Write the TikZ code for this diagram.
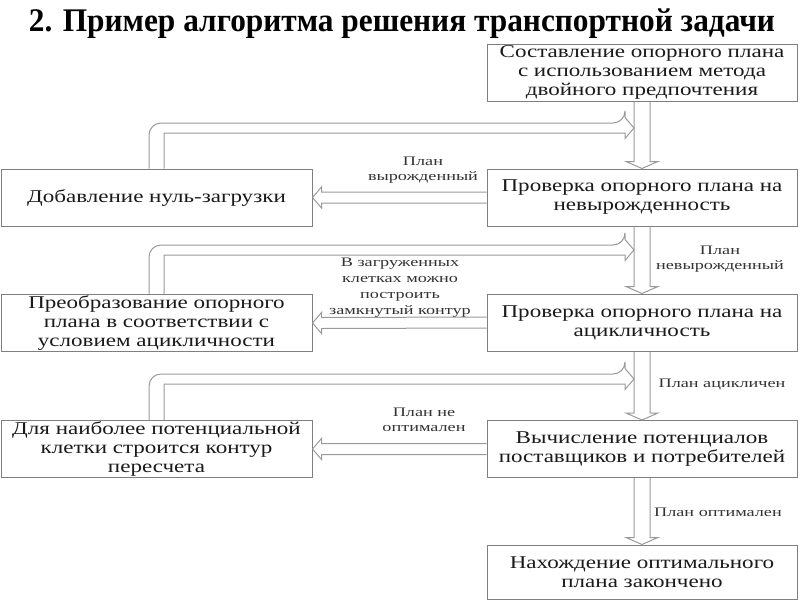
\documentclass[tikz,border=0pt]{standalone}
\usepackage{fontspec}
\setmainfont{Liberation Serif}
\newfontfamily\boxfont[FakeStretch=1.28]{Liberation Serif}
\newfontfamily\lblfont[FakeStretch=1.4]{Liberation Serif}
\newfontfamily\titlefont[FakeStretch=0.95]{Liberation Serif}
\usetikzlibrary{calc}
\definecolor{boxgray}{HTML}{7F7F7F}
\definecolor{linegray}{HTML}{9A9A9A}
\definecolor{txt}{HTML}{1A1A1A}
\definecolor{lbltxt}{HTML}{333333}
\newcommand\vdarrow[2]{\draw[ln] ($(#1.south)+(-8,0)$) -- ($(#2.north)+(-8,-7)$) -- ($(#2.north)+(-16,-7)$) -- (#2.north) -- ($(#2.north)+(16,-7)$) -- ($(#2.north)+(8,-7)$) -- ($(#1.south)+(8,0)$);}
\newcommand\hdarrow[2]{\draw[ln] ($(#1.west)+(0,-5.5)$) -- ($(#2.east)+(9,-5.5)$) -- ($(#2.east)+(9,-10.5)$) -- (#2.east) -- ($(#2.east)+(9,10.5)$) -- ($(#2.east)+(9,5.5)$) -- ($(#1.west)+(0,5.5)$);}
\newcommand\fbloop[2]{\draw[ln] ($(#1.north)+(-7.5,0)$) [rounded corners=12pt] |- ($(#2)+(-9,-5)$) [sharp corners] -- ($(#2)+(-9,-10.5)$) -- (#2) -- ($(#2)+(-9,10.5)$) -- ($(#2)+(-9,5)$) -| ($(#1.north)+(7.5,0)$);}
\begin{document}
\begin{tikzpicture}[x=1pt,y=-1pt,
 box/.style={draw=boxgray, line width=1pt, minimum width=310pt, minimum height=57pt, inner sep=0pt, align=center, font=\boxfont\fontsize{18}{19}\selectfont, text=txt},
 lbox/.style={box, minimum width=311pt},
 lbl/.style={align=center, font=\lblfont\fontsize{13}{15}\selectfont, text=lbltxt, inner sep=0pt},
 ln/.style={draw=linegray, line width=1pt, line join=miter}]
\useasboundingbox[fill=white] (0,0) rectangle (800,600);
\node[font=\titlefont\bfseries\fontsize{33}{33}\selectfont, text=black] (title) at (402,24) {2. Пример алгоритма решения транспортной задачи};
\node[box] (b1) at (642,72.5) {Составление опорного плана\\с использованием метода\\двойного предпочтения};
\node[box] (b2) at (642,197.5) {Проверка опорного плана на\\невырожденность};
\node[box] (b3) at (642,322.5) {Проверка опорного плана на\\ацикличность};
\node[box] (b4) at (642,449) {Вычисление потенциалов\\поставщиков и потребителей};
\node[box, minimum height=54pt] (b5) at (642,572) {Нахождение оптимального\\плана закончено};
\node[lbox] (l1) at (156.5,197.5) {Добавление нуль-загрузки};
\node[lbox] (l2) at (156.5,323) {Преобразование опорного\\плана в соответствии с\\условием ацикличности};
\node[lbox] (l3) at (156.5,449) {Для наиболее потенциальной\\клетки строится контур\\пересчета};
\coordinate (t1) at (634,128);
\coordinate (t2) at (634,250);
\coordinate (t3) at (634,379);
\vdarrow{b1}{b2}
\vdarrow{b2}{b3}
\vdarrow{b3}{b4}
\vdarrow{b4}{b5}
\hdarrow{b2}{l1}
\hdarrow{b3}{l2}
\hdarrow{b4}{l3}
\fbloop{l1}{t1}
\fbloop{l2}{t2}
\fbloop{l3}{t3}
\node[lbl] (c1) at (423,170) {План\\вырожденный};
\node[lbl] (c2) at (720,259) {План\\невырожденный};
\node[lbl, font=\lblfont\fontsize{13}{16}\selectfont] (c3) at (400,287.5) {В загруженных\\клетках можно\\построить\\замкнутый контур};
\node[lbl] (c4) at (722,384) {План ацикличен};
\node[lbl] (c5) at (424,420) {План не\\оптимален};
\node[lbl] (c6) at (718,512) {План оптимален};
\end{tikzpicture}
\end{document}
